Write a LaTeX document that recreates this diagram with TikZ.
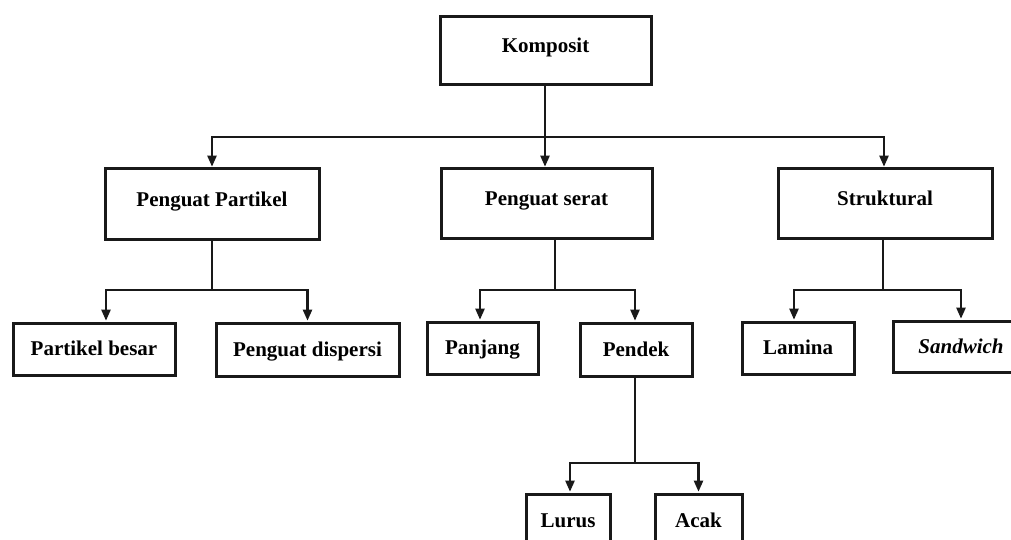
\documentclass[tikz,border=0pt]{standalone}
\usepackage{fontspec}
\setmainfont{Liberation Serif}
\usetikzlibrary{arrows.meta}
\tikzset{
  box/.style={draw=black!90, line width=3pt, fill=white, inner sep=0pt,
    text height=14pt, text depth=4.5pt,
    font=\fontsize{21}{23}\selectfont\bfseries},
  upper/.style={text depth=10pt},
  lower/.style={text height=18pt},
  conn/.style={draw=black!90, line width=2.2pt},
  arr/.style={conn, -{Triangle[length=11pt,width=9pt]}, shorten >=0.8pt}
}
\begin{document}
\begin{tikzpicture}[x=1pt,y=-1pt]
\clip (0,0) rectangle (1011,540);
\fill[white] (0,0) rectangle (1011,540);
% level 1
\node[box, upper, minimum width=211pt, minimum height=68pt] (komp) at (545.5,51) {Komposit};
% level 2
\node[box, upper, minimum width=214pt, minimum height=70pt] (pp) at (212,204) {Penguat Partikel};
\node[box, upper, minimum width=211pt, minimum height=69pt] (ps) at (546.5,203.5) {Penguat serat};
\node[box, upper, minimum width=214pt, minimum height=69pt] (st) at (885,203.5) {Struktural};
% level 3
\node[box, lower, minimum width=162pt, minimum height=52pt] (pb) at (94,349) {Partikel besar};
\node[box, lower, minimum width=183pt, minimum height=53pt] (pd) at (307.5,349.5) {Penguat dispersi};
\node[box, lower, minimum width=111pt, minimum height=52pt] (pj) at (482.5,348) {Panjang};
\node[box, lower, minimum width=112pt, minimum height=53pt] (pk) at (636,349.5) {Pendek};
\node[box, lower, minimum width=112pt, minimum height=52pt] (la) at (798,348) {Lamina};
\node[box, lower, minimum width=136pt, minimum height=51pt] (sw) at (961,346.5) {\itshape Sandwich};
% level 4
\node[box, lower, minimum width=84pt, minimum height=53pt] (lu) at (568,520.5) {Lurus};
\node[box, lower, minimum width=87pt, minimum height=53pt] (ac) at (698.5,520.5) {Acak};
% junctions
\coordinate (j1) at (545,137);
\coordinate (j2) at (212,290);
\coordinate (j3) at (555,290);
\coordinate (j4) at (883,290);
\coordinate (j5) at (635,463);
% connectors
\draw[conn] (komp.south -| j1) -- (j1);
\draw[arr] (j1) -| (pp.north);
\draw[arr] (j1) -- (j1 |- ps.north);
\draw[arr] (j1) -| ([xshift=-1pt]st.north);

\draw[conn] (pp.south) -- (j2);
\draw[arr] (j2) -| ([xshift=12pt]pb.north);
\draw[arr] (j2) -| (pd.north);

\draw[conn] (ps.south -| j3) -- (j3);
\draw[arr] (j3) -| ([xshift=-2.5pt]pj.north);
\draw[arr] (j3) -| ([xshift=-1pt]pk.north);

\draw[conn] (st.south -| j4) -- (j4);
\draw[arr] (j4) -| ([xshift=-4pt]la.north);
\draw[arr] (j4) -| (sw.north);

\draw[conn] (pk.south -| j5) -- (j5);
\draw[arr] (j5) -| ([xshift=2pt]lu.north);
\draw[arr] (j5) -| (ac.north);
\end{tikzpicture}
\end{document}
